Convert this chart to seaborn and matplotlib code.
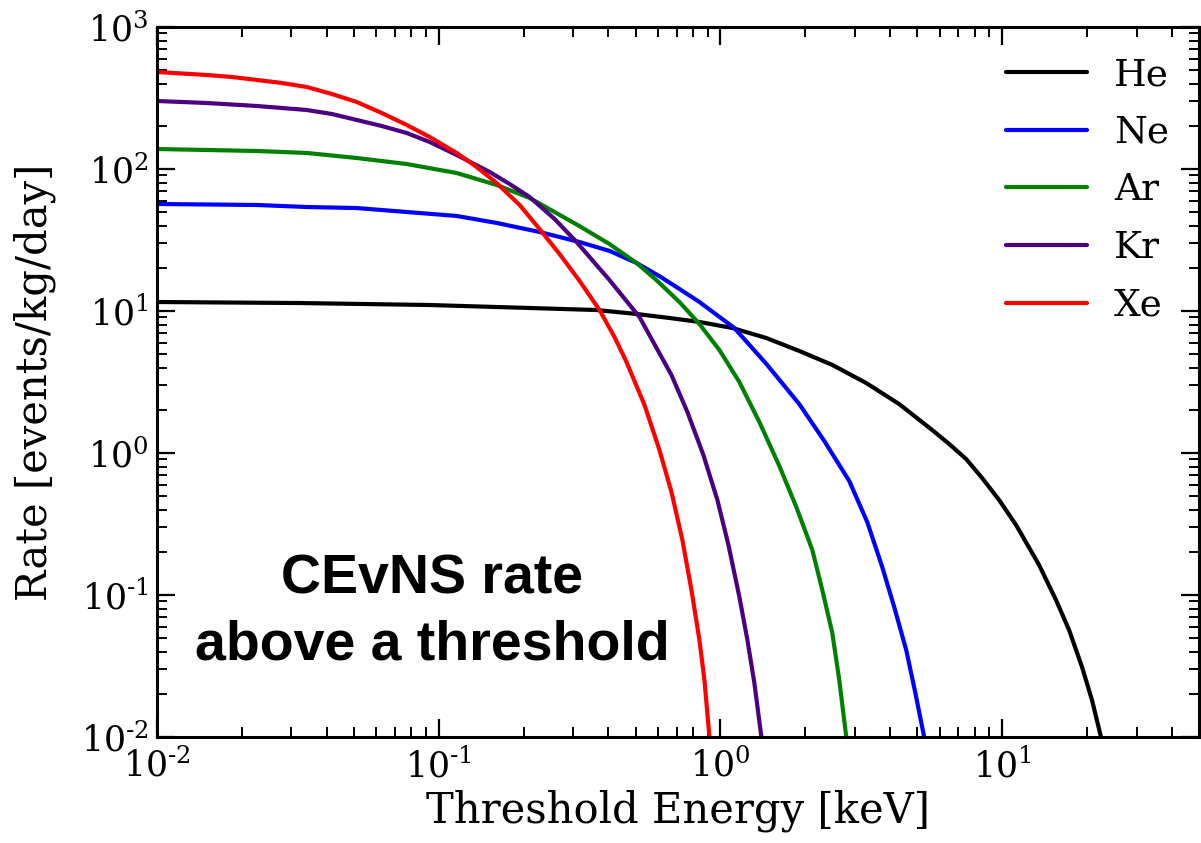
import numpy as np
import pandas as pd
import matplotlib
matplotlib.use("Agg")
import matplotlib.pyplot as plt
import seaborn as sns
from matplotlib.ticker import LogLocator, FuncFormatter, NullFormatter

# values (threshold energy in keV, rate in events/kg/day)
he_x = [0.01, 0.0321, 0.0929, 0.2103, 0.3634, 0.5036, 0.6594, 0.8425, 1.103, 1.456, 1.906,
        2.496, 3.294, 4.313, 5.647, 6.488, 7.454, 8.495, 9.759, 11.21, 13.53, 15.54, 17.29,
        19.22, 20.85, 22.44]
he_y = [11.57, 11.38, 11.02, 10.50, 10.16, 9.53, 8.93, 8.37, 7.59, 6.45, 5.23,
        4.17, 3.11, 2.21, 1.452, 1.157, 0.907, 0.6666, 0.4667, 0.3111, 0.1627, 0.0922, 0.0567,
        0.0311, 0.0182, 0.01]

ne_x = [0.01, 0.02262, 0.0340, 0.0512, 0.0770, 0.1158, 0.1606, 0.2281, 0.3162, 0.4041, 0.5036,
        0.6076, 0.7154, 0.8425, 1.121, 1.456, 1.906, 2.338, 2.867, 3.321, 3.754, 4.140, 4.567,
        4.915, 5.289]
ne_y = [56.7, 55.8, 54.0, 53.1, 49.8, 46.7, 41.7, 36.0, 30.6, 26.5, 21.8,
        17.6, 14.3, 11.57, 7.59, 4.24, 2.21, 1.215, 0.635, 0.3266, 0.1575, 0.0823, 0.0410,
        0.0207, 0.01]

ar_x = [0.01, 0.01504, 0.02262, 0.0340, 0.0512, 0.0770, 0.1158, 0.1606, 0.2103, 0.3162, 0.4041,
        0.5036, 0.5929, 0.7154, 0.8425, 0.9920, 1.168, 1.375, 1.619, 1.860, 2.120, 2.300,
        2.496, 2.642, 2.798]
ar_y = [138.3, 136.1, 133.9, 129.7, 119.5, 108.4, 93.7, 77.2, 62.5, 39.6, 29.6,
        21.8, 16.5, 11.57, 8.10, 5.31, 3.16, 1.653, 0.810, 0.4166, 0.2074, 0.1084,
        0.0540, 0.0252, 0.01]

kr_x = [0.01, 0.01227, 0.01504, 0.01845, 0.02262, 0.02776, 0.0340, 0.04174, 0.0512, 0.06277,
        0.0770, 0.0929, 0.1158, 0.1517, 0.1786, 0.2103, 0.2578, 0.3087, 0.4041, 0.5161,
        0.6703, 0.7636, 0.8702, 0.9758, 1.068, 1.168, 1.247, 1.320, 1.398]
kr_y = [301.1, 296.4, 291.6, 284.6, 277.8, 268.9, 260.3, 244.0, 221.4, 200.8,
        179.3, 155.0, 125.5, 95.3, 78.4, 63.5, 44.5, 30.6, 16.5, 9.07,
        3.54, 1.944, 0.968, 0.4667, 0.2250, 0.0968, 0.0482, 0.0240, 0.01]

xe_x = [0.01, 0.01227, 0.01504, 0.01845, 0.02262, 0.02776, 0.0340, 0.04174, 0.0512, 0.06277,
        0.0770, 0.0929, 0.1158, 0.1364, 0.1606, 0.1937, 0.2281, 0.2686, 0.3162, 0.3724,
        0.4208, 0.4642, 0.5377, 0.6076, 0.6703, 0.7329, 0.7893, 0.8425, 0.8776, 0.9143]
xe_y = [482.1, 470.5, 459.2, 444.6, 423.6, 403.3, 378.1, 337.5, 296.4, 248.0,
        204.2, 168.0, 129.7, 103.3, 79.7, 55.8, 37.8, 25.2, 16.3, 10.16,
        6.56, 4.37, 2.18, 1.05, 0.5314, 0.2440, 0.1084, 0.0482, 0.0252, 0.01]

elements = ["He", "Ne", "Ar", "Kr", "Xe"]
colors = ["black", "blue", "green", "indigo", "red"]

frames = []
for name, xs, ys in zip(elements,
                        [he_x, ne_x, ar_x, kr_x, xe_x],
                        [he_y, ne_y, ar_y, kr_y, xe_y]):
    frames.append(pd.DataFrame({"energy": xs, "rate": ys, "target": name}))
df = pd.concat(frames, ignore_index=True)

sns.set_style("ticks")
plt.rcParams["font.family"] = ["DejaVu Serif"]
plt.rcParams["mathtext.fontset"] = "dejavuserif"
plt.rcParams["xtick.direction"] = "in"
plt.rcParams["ytick.direction"] = "in"
plt.rcParams["xtick.top"] = True
plt.rcParams["ytick.right"] = True
for key in ["text.color", "axes.labelcolor", "xtick.color", "ytick.color", "axes.edgecolor"]:
    plt.rcParams[key] = "black"


def pow10(v, pos):
    e = int(round(np.log10(v)))
    if e < 0:
        return r"$\mathdefault{10^{\text{-}%d}}$" % (-e)
    return r"$\mathdefault{10^{%d}}$" % e


fig = plt.figure(figsize=(12.01, 8.43), dpi=100)
ax = fig.add_axes([157 / 1201, 106 / 843, 1042 / 1201, 710 / 843])

sns.lineplot(data=df, x="energy", y="rate", hue="target", hue_order=elements,
             palette=colors, estimator=None, linewidth=3, ax=ax)

ax.set_xscale("log")
ax.set_yscale("log")
ax.set_xlim(1e-2, 50)
ax.set_ylim(1e-2, 1e3)

for axis in (ax.xaxis, ax.yaxis):
    axis.set_major_locator(LogLocator(base=10, numticks=20))
    axis.set_minor_locator(LogLocator(base=10, subs=np.arange(2, 10), numticks=50))
    axis.set_major_formatter(FuncFormatter(pow10))
    axis.set_minor_formatter(NullFormatter())

ax.tick_params(which="major", length=13, width=1.6, labelsize=25, pad=6)
ax.tick_params(axis="x", which="major", pad=8)
ax.tick_params(which="minor", length=7, width=1.4)
for sp in ax.spines.values():
    sp.set_linewidth(2.2)

ax.set_xlabel("Threshold Energy [keV]", fontsize=30, labelpad=4)
ax.set_ylabel("Rate [events/kg/day]", fontsize=30, labelpad=18)

ax.legend(loc="upper right", frameon=False, fontsize=27, handlelength=2.15,
          handletextpad=0.72, labelspacing=0.58, borderpad=0.4, borderaxespad=0.4)

ax.text(0.264, 0.109, "CEvNS rate\nabove a threshold", transform=ax.transAxes,
        ha="center", va="baseline", multialignment="center", fontsize=40,
        fontweight="bold", family=["Liberation Sans", "DejaVu Sans"], linespacing=1.36)

fig.savefig("out.png", dpi=100)
